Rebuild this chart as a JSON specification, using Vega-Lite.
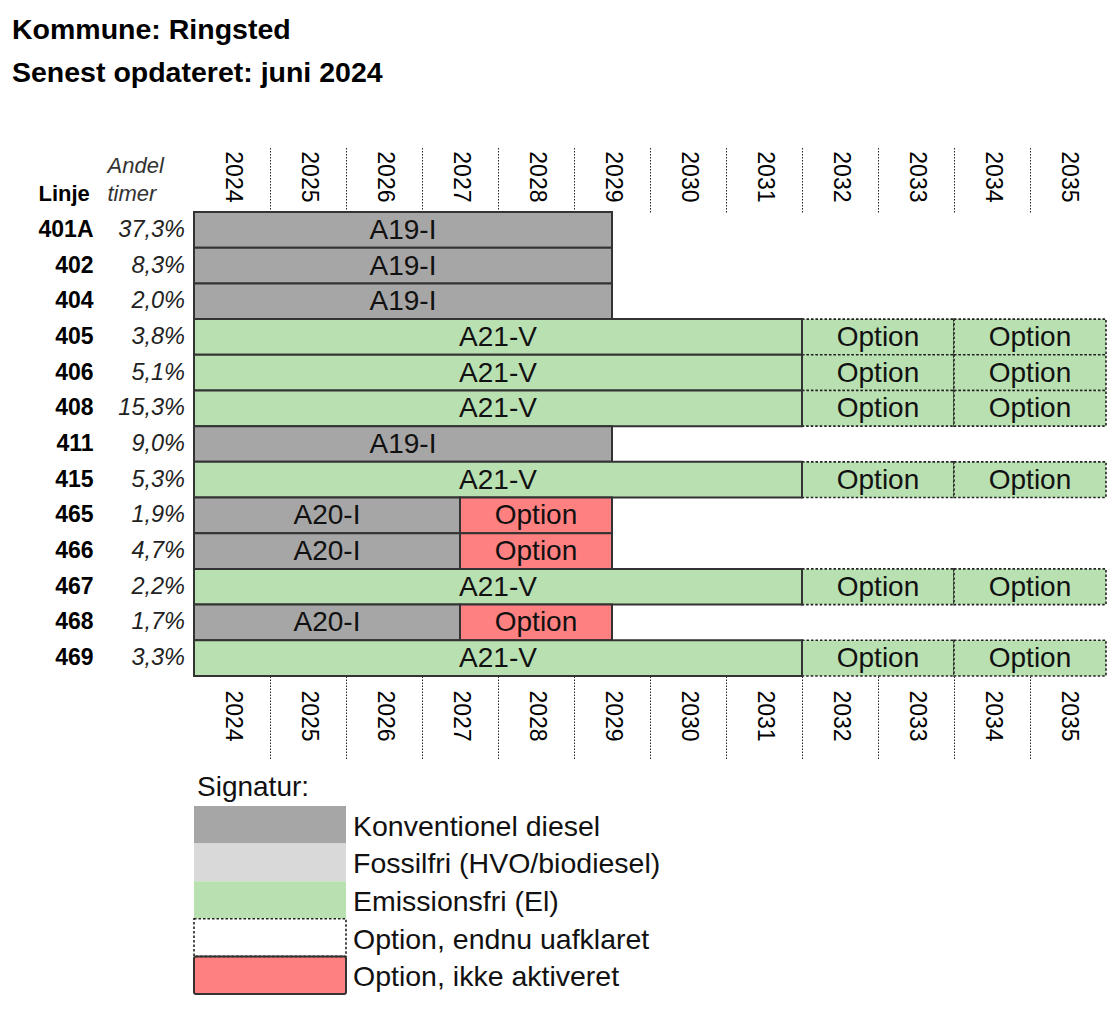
{
  "$schema": "https://vega.github.io/schema/vega-lite/v6.json",
  "padding": {"left": 12, "top": 16, "right": 5, "bottom": 5},
  "background": "white",
  "title": {
    "text": ["Kommune: Ringsted", "Senest opdateret: juni 2024"],
    "anchor": "start",
    "font": "Liberation Sans",
    "fontSize": 28.5,
    "fontWeight": "bold",
    "lineHeight": 43,
    "color": "#000000",
    "dx": -26,
    "offset": 58
  },
  "datasets": {
    "lines": [
      {"line": "401A", "andel": "37,3%"},
      {"line": "402", "andel": "8,3%"},
      {"line": "404", "andel": "2,0%"},
      {"line": "405", "andel": "3,8%"},
      {"line": "406", "andel": "5,1%"},
      {"line": "408", "andel": "15,3%"},
      {"line": "411", "andel": "9,0%"},
      {"line": "415", "andel": "5,3%"},
      {"line": "465", "andel": "1,9%"},
      {"line": "466", "andel": "4,7%"},
      {"line": "467", "andel": "2,2%"},
      {"line": "468", "andel": "1,7%"},
      {"line": "469", "andel": "3,3%"}
    ],
    "seg": [
      {"seg": "405b", "line": "405", "start": 2032, "end": 2034, "label": "Option", "type": "optel"},
      {"seg": "405c", "line": "405", "start": 2034, "end": 2036, "label": "Option", "type": "optel"},
      {"seg": "406b", "line": "406", "start": 2032, "end": 2034, "label": "Option", "type": "optel"},
      {"seg": "406c", "line": "406", "start": 2034, "end": 2036, "label": "Option", "type": "optel"},
      {"seg": "408b", "line": "408", "start": 2032, "end": 2034, "label": "Option", "type": "optel"},
      {"seg": "408c", "line": "408", "start": 2034, "end": 2036, "label": "Option", "type": "optel"},
      {"seg": "415b", "line": "415", "start": 2032, "end": 2034, "label": "Option", "type": "optel"},
      {"seg": "415c", "line": "415", "start": 2034, "end": 2036, "label": "Option", "type": "optel"},
      {"seg": "467b", "line": "467", "start": 2032, "end": 2034, "label": "Option", "type": "optel"},
      {"seg": "467c", "line": "467", "start": 2034, "end": 2036, "label": "Option", "type": "optel"},
      {"seg": "469b", "line": "469", "start": 2032, "end": 2034, "label": "Option", "type": "optel"},
      {"seg": "469c", "line": "469", "start": 2034, "end": 2036, "label": "Option", "type": "optel"},
      {"seg": "401Aa", "line": "401A", "start": 2024, "end": 2029.5, "label": "A19-I", "type": "diesel"},
      {"seg": "402a", "line": "402", "start": 2024, "end": 2029.5, "label": "A19-I", "type": "diesel"},
      {"seg": "404a", "line": "404", "start": 2024, "end": 2029.5, "label": "A19-I", "type": "diesel"},
      {"seg": "405a", "line": "405", "start": 2024, "end": 2032, "label": "A21-V", "type": "el"},
      {"seg": "406a", "line": "406", "start": 2024, "end": 2032, "label": "A21-V", "type": "el"},
      {"seg": "408a", "line": "408", "start": 2024, "end": 2032, "label": "A21-V", "type": "el"},
      {"seg": "411a", "line": "411", "start": 2024, "end": 2029.5, "label": "A19-I", "type": "diesel"},
      {"seg": "415a", "line": "415", "start": 2024, "end": 2032, "label": "A21-V", "type": "el"},
      {"seg": "465a", "line": "465", "start": 2024, "end": 2027.5, "label": "A20-I", "type": "diesel"},
      {"seg": "465b", "line": "465", "start": 2027.5, "end": 2029.5, "label": "Option", "type": "optred"},
      {"seg": "466a", "line": "466", "start": 2024, "end": 2027.5, "label": "A20-I", "type": "diesel"},
      {"seg": "466b", "line": "466", "start": 2027.5, "end": 2029.5, "label": "Option", "type": "optred"},
      {"seg": "467a", "line": "467", "start": 2024, "end": 2032, "label": "A21-V", "type": "el"},
      {"seg": "468a", "line": "468", "start": 2024, "end": 2027.5, "label": "A20-I", "type": "diesel"},
      {"seg": "468b", "line": "468", "start": 2027.5, "end": 2029.5, "label": "Option", "type": "optred"},
      {"seg": "469a", "line": "469", "start": 2024, "end": 2032, "label": "A21-V", "type": "el"}
    ],
    "legend": [
      {"item": "Konventionel diesel", "type": "diesel"},
      {"item": "Fossilfri (HVO/biodiesel)", "type": "fossil"},
      {"item": "Emissionsfri (El)", "type": "el"},
      {"item": "Option, endnu uafklaret", "type": "optopen"},
      {"item": "Option, ikke aktiveret", "type": "optred"}
    ]
  },
  "spacing": 13,
  "vconcat": [
    {
      "width": 912,
      "height": 464,
      "resolve": {"axis": {"x": "independent"}},
      "layer": [
        {
          "data": {"name": "seg"},
          "transform": [{"filter": "datum.type == 'optel'"}],
          "mark": {"type": "rect", "stroke": "#222222", "strokeWidth": 1.6, "strokeDash": [2.5, 2]},
          "encoding": {
            "x": {
              "field": "start",
              "type": "quantitative",
              "scale": {"domain": [2024, 2036], "nice": false, "zero": false},
              "axis": {
                "orient": "bottom",
                "values": [2024, 2025, 2026, 2027, 2028, 2029, 2030, 2031, 2032, 2033, 2034, 2035],
                "format": "d",
                "labelAngle": 90,
                "labelAlign": "left",
                "labelBaseline": "middle",
                "labelOffset": 38,
                "labelPadding": -70,
                "labelFlush": false,
                "labelBound": false,
                "labelOverlap": false,
                "labelFont": "Liberation Sans",
                "labelFontSize": 23,
                "labelColor": "#000000",
                "tickSize": 84,
                "tickDash": [1.5, 1.5],
                "tickColor": "#222222",
                "tickWidth": 1,
                "tickOpacity": {"condition": {"test": "datum.value == 2024", "value": 0}, "value": 1},
                "domain": false,
                "grid": false,
                "title": null
              }
            },
            "x2": {"field": "end"},
            "y": {
              "field": "line",
              "type": "nominal",
              "sort": ["401A", "402", "404", "405", "406", "408", "411", "415", "465", "466", "467", "468", "469"],
              "scale": {"paddingInner": 0, "paddingOuter": 0},
              "title": "Linje"
            },
            "color": {
              "field": "type",
              "type": "nominal",
              "scale": {
                "domain": ["diesel", "fossil", "el", "optel", "optopen", "optred"],
                "range": ["#A6A6A6", "#D9D9D9", "#B9E0B1", "#B9E0B1", "#FFFFFF", "#FF8080"]
              },
              "legend": null
            }
          }
        },
        {
          "data": {"name": "seg"},
          "transform": [{"filter": "datum.type != 'optel'"}],
          "mark": {"type": "rect", "stroke": "#333333", "strokeWidth": 2},
          "encoding": {
            "x": {"field": "start", "type": "quantitative", "axis": null},
            "x2": {"field": "end"},
            "y": {
              "field": "line",
              "type": "nominal",
              "sort": ["401A", "402", "404", "405", "406", "408", "411", "415", "465", "466", "467", "468", "469"],
              "title": "Linje"
            },
            "color": {
              "field": "type",
              "type": "nominal",
              "scale": {
                "domain": ["diesel", "fossil", "el", "optel", "optopen", "optred"],
                "range": ["#A6A6A6", "#D9D9D9", "#B9E0B1", "#B9E0B1", "#FFFFFF", "#FF8080"]
              },
              "legend": null
            }
          }
        },
        {
          "data": {"name": "seg"},
          "transform": [{"fold": ["start", "end"], "as": ["k", "v"]}],
          "mark": {"type": "text", "fontSize": 28, "baseline": "middle", "dy": 1, "color": "#111111", "font": "Liberation Sans"},
          "encoding": {
            "x": {
              "aggregate": "mean",
              "field": "v",
              "type": "quantitative",
              "axis": {
                "orient": "top",
                "values": [2024, 2025, 2026, 2027, 2028, 2029, 2030, 2031, 2032, 2033, 2034, 2035],
                "format": "d",
                "labelAngle": 90,
                "labelAlign": "right",
                "labelBaseline": "middle",
                "labelOffset": 38,
                "labelPadding": -56,
                "labelFlush": false,
                "labelBound": false,
                "labelOverlap": false,
                "labelFont": "Liberation Sans",
                "labelFontSize": 23,
                "labelColor": "#000000",
                "tickSize": 66,
                "tickDash": [1.5, 1.5],
                "tickColor": "#222222",
                "tickWidth": 1,
                "tickOpacity": {"condition": {"test": "datum.value == 2024", "value": 0}, "value": 1},
                "domain": false,
                "grid": false,
                "title": ["Andel", "timer"],
                "titleFont": "Liberation Sans",
                "titleFontSize": 22,
                "titleFontStyle": "italic",
                "titleFontWeight": "normal",
                "titleColor": "#333333",
                "titleAngle": 0,
                "titleAlign": "left",
                "titleBaseline": "alphabetic",
                "titleX": -87,
                "titleY": -40,
                "titleLineHeight": 28
              }
            },
            "y": {
              "field": "line",
              "type": "nominal",
              "sort": ["401A", "402", "404", "405", "406", "408", "411", "415", "465", "466", "467", "468", "469"],
              "title": "Linje"
            },
            "text": {"field": "label", "type": "nominal"},
            "detail": {"field": "seg", "type": "nominal"}
          }
        },
        {
          "data": {"name": "lines"},
          "mark": {"type": "text", "align": "right", "baseline": "middle", "dx": -9, "fontSize": 23.5, "fontStyle": "italic", "color": "#222222", "font": "Liberation Sans"},
          "encoding": {
            "x": {"datum": 2024, "type": "quantitative", "axis": null},
            "y": {
              "field": "line",
              "type": "nominal",
              "sort": ["401A", "402", "404", "405", "406", "408", "411", "415", "465", "466", "467", "468", "469"],
              "title": "Linje"
            },
            "text": {"field": "andel", "type": "nominal"}
          }
        }
      ]
    },
    {
      "width": 912,
      "height": 188,
      "title": {"text": "Signatur:", "anchor": "start", "font": "Liberation Sans", "fontSize": 28, "fontWeight": "normal", "color": "#111111", "offset": 4, "dx": 4},
      "data": {"name": "legend"},
      "layer": [
        {
          "mark": {"type": "rect", "strokeWidth": 0},
          "encoding": {
            "x": {"datum": 2024, "type": "quantitative", "scale": {"domain": [2024, 2036], "nice": false, "zero": false}, "axis": null},
            "x2": {"datum": 2026},
            "y": {
              "field": "item",
              "type": "nominal",
              "sort": ["Konventionel diesel", "Fossilfri (HVO/biodiesel)", "Emissionsfri (El)", "Option, endnu uafklaret", "Option, ikke aktiveret"],
              "scale": {"paddingInner": 0, "paddingOuter": 0},
              "axis": null
            },
            "color": {
              "field": "type",
              "type": "nominal",
              "scale": {
                "domain": ["diesel", "fossil", "el", "optel", "optopen", "optred"],
                "range": ["#A6A6A6", "#D9D9D9", "#B9E0B1", "#B9E0B1", "#FFFFFF", "#FF8080"]
              },
              "legend": null
            }
          }
        },
        {
          "transform": [{"filter": "datum.type == 'optopen'"}],
          "mark": {"type": "rect", "fill": null, "filled": false, "stroke": "#222222", "strokeWidth": 1.6, "strokeDash": [2.5, 2]},
          "encoding": {
            "x": {"datum": 2024, "type": "quantitative"},
            "x2": {"datum": 2026},
            "y": {
              "field": "item",
              "type": "nominal",
              "sort": ["Konventionel diesel", "Fossilfri (HVO/biodiesel)", "Emissionsfri (El)", "Option, endnu uafklaret", "Option, ikke aktiveret"],
              "axis": null
            }
          }
        },
        {
          "transform": [{"filter": "datum.type == 'optred'"}],
          "mark": {"type": "rect", "fill": null, "filled": false, "stroke": "#333333", "strokeWidth": 2, "cornerRadius": 2},
          "encoding": {
            "x": {"datum": 2024, "type": "quantitative"},
            "x2": {"datum": 2026},
            "y": {
              "field": "item",
              "type": "nominal",
              "sort": ["Konventionel diesel", "Fossilfri (HVO/biodiesel)", "Emissionsfri (El)", "Option, endnu uafklaret", "Option, ikke aktiveret"],
              "axis": null
            }
          }
        },
        {
          "mark": {"type": "text", "align": "left", "baseline": "middle", "dx": 7, "dy": 2, "fontSize": 28.5, "color": "#111111", "font": "Liberation Sans"},
          "encoding": {
            "x": {"datum": 2026, "type": "quantitative"},
            "y": {
              "field": "item",
              "type": "nominal",
              "sort": ["Konventionel diesel", "Fossilfri (HVO/biodiesel)", "Emissionsfri (El)", "Option, endnu uafklaret", "Option, ikke aktiveret"],
              "axis": null
            },
            "text": {"field": "item", "type": "nominal"}
          }
        }
      ]
    }
  ],
  "config": {
    "font": "Liberation Sans",
    "view": {"stroke": null},
    "axisY": {
      "labelFont": "Liberation Sans",
      "labelFontSize": 23,
      "labelFontWeight": "bold",
      "labelColor": "#000000",
      "labelAlign": "right",
      "labelPadding": 101,
      "domain": false,
      "ticks": false,
      "grid": false,
      "titleFont": "Liberation Sans",
      "titleFontSize": 22,
      "titleFontWeight": "bold",
      "titleColor": "#000000",
      "titleAngle": 0,
      "titleAlign": "left",
      "titleBaseline": "alphabetic",
      "titleX": -156,
      "titleY": -12
    }
  }
}
